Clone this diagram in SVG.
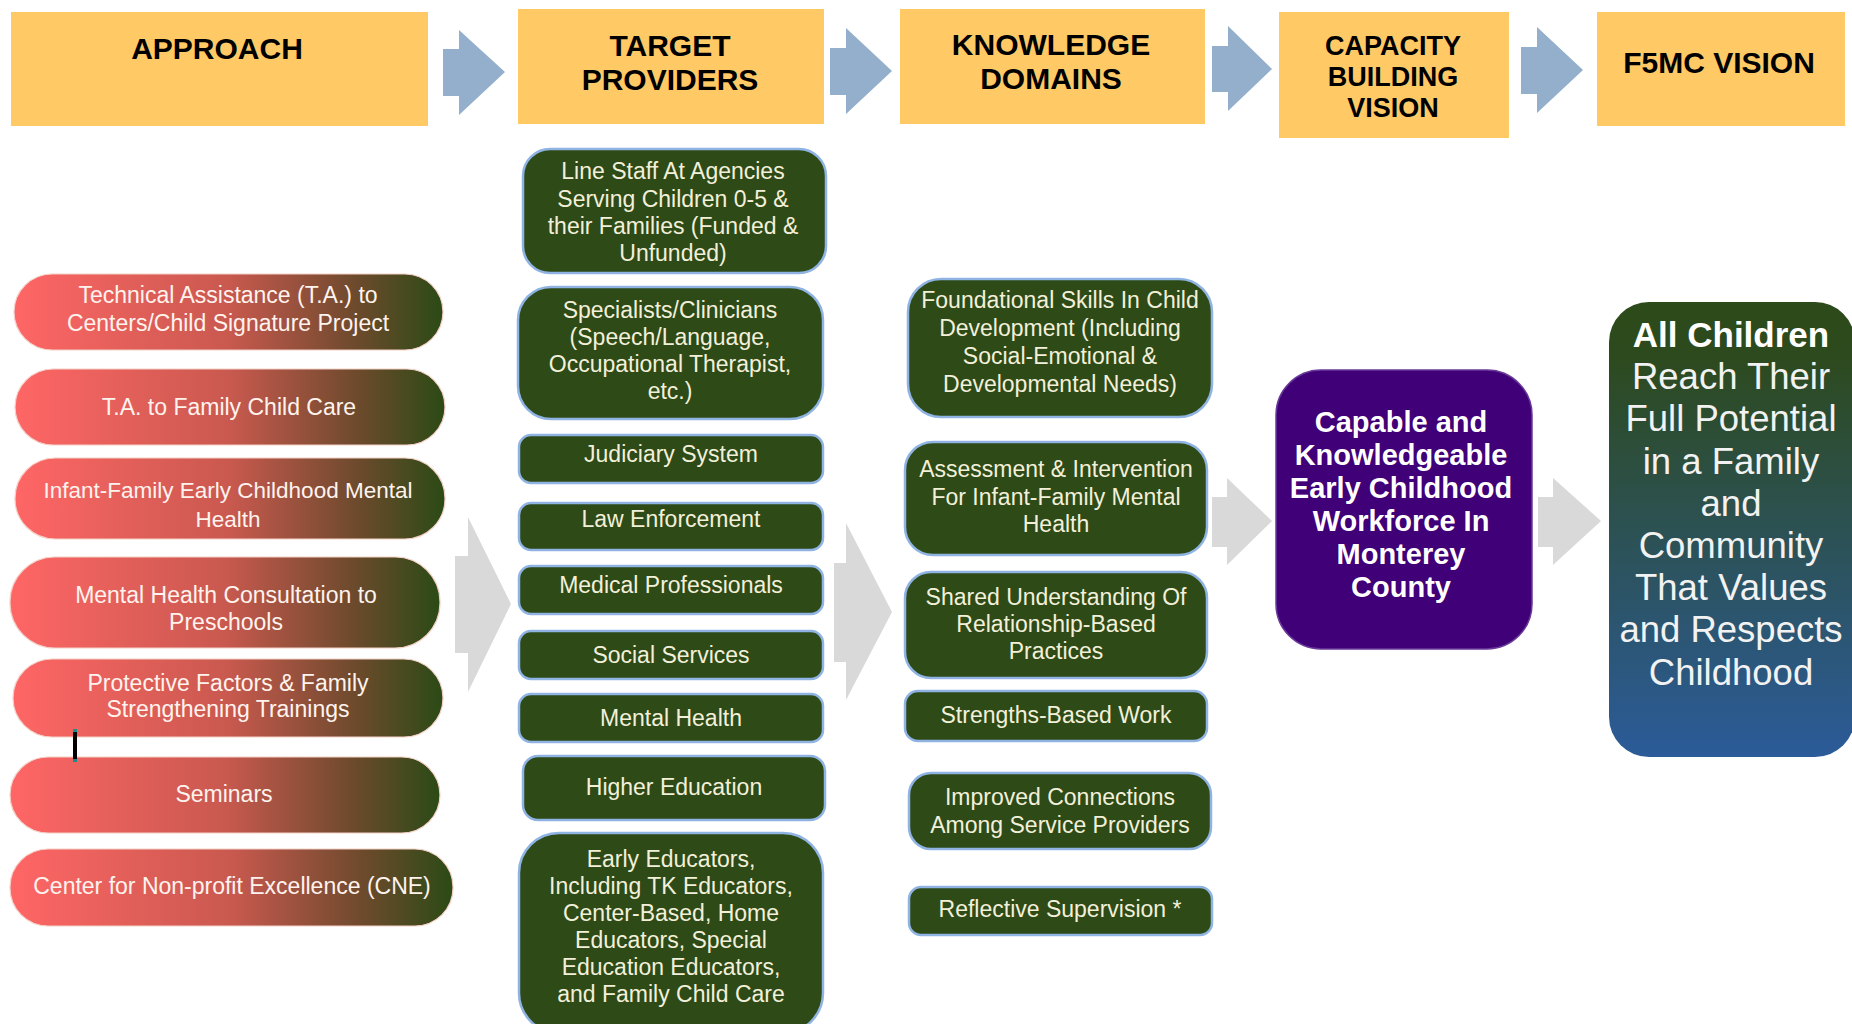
<svg xmlns="http://www.w3.org/2000/svg" width="1852" height="1024" viewBox="0 0 1852 1024">
<defs>
<linearGradient id="pg" x1="0" y1="0" x2="1" y2="0">
<stop offset="0" stop-color="#FF6666"/>
<stop offset="0.5" stop-color="#C9594F"/>
<stop offset="0.8" stop-color="#6C4A2C"/>
<stop offset="1" stop-color="#2B4A16"/>
</linearGradient>
<linearGradient id="vg" x1="0" y1="0" x2="0" y2="1">
<stop offset="0" stop-color="#2D4A1A"/>
<stop offset="0.12" stop-color="#2D4A1E"/>
<stop offset="1" stop-color="#2B5B99"/>
</linearGradient>
<style>
.hdr{fill:#FFC966}
.htxt{font-family:"Liberation Sans",Arial,sans-serif;font-weight:bold;font-size:30px;fill:#000;text-anchor:middle}
.blue{fill:#94AFCC}
.gray{fill:#D9D9D9}
.pill{fill:url(#pg);stroke:#F4CFC6;stroke-width:1.2}
.ptxt{font-family:"Liberation Sans",Arial,sans-serif;font-size:23px;fill:#FFF3EE;text-anchor:middle}
.gbox{fill:#2D4A17;stroke:#8FB4E3;stroke-width:2.5}
.gtxt{font-family:"Liberation Sans",Arial,sans-serif;font-size:23px;fill:#F3F0DA;text-anchor:middle}
.ctxt{font-family:"Liberation Sans",Arial,sans-serif;font-weight:bold;font-size:29px;fill:#FFFFFF;text-anchor:middle}
.vtxt{font-family:"Liberation Sans",Arial,sans-serif;font-size:36.5px;fill:#F2F2F2;text-anchor:middle}
</style>
</defs>
<rect width="1852" height="1024" fill="#FFFFFF"/>

<!-- Headers -->
<g id="hdr-approach"><rect class="hdr" x="11" y="12" width="417" height="114"/><text class="htxt" x="217" y="59">APPROACH</text></g>
<g id="hdr-target"><rect class="hdr" x="518" y="9" width="306" height="115"/><text class="htxt" x="670" y="56">TARGET</text><text class="htxt" x="670" y="90">PROVIDERS</text></g>
<g id="hdr-knowledge"><rect class="hdr" x="900" y="9" width="305" height="115"/><text class="htxt" x="1051" y="55">KNOWLEDGE</text><text class="htxt" x="1051" y="89">DOMAINS</text></g>
<g id="hdr-capacity"><rect class="hdr" x="1279" y="12" width="230" height="126"/><text class="htxt" x="1393" y="55" style="font-size:27px">CAPACITY</text><text class="htxt" x="1393" y="86" style="font-size:27px">BUILDING</text><text class="htxt" x="1393" y="117" style="font-size:27px">VISION</text></g>
<g id="hdr-vision"><rect class="hdr" x="1597" y="12" width="248" height="114"/><text class="htxt" x="1719" y="73">F5MC VISION</text></g>

<!-- Connectors -->
<g id="connectors">
<path class="blue" d="M443,49 H459 V30 L505,72 L459,115 V96 H443 Z"/>
<path class="blue" d="M830,48 H846 V28 L892,71 L846,114 V95 H830 Z"/>
<path class="blue" d="M1212,46 H1228 V26 L1272,69 L1228,111 V92 H1212 Z"/>
<path class="blue" d="M1521,47 H1537 V27 L1583,70 L1537,113 V94 H1521 Z"/>
<path class="gray" d="M455,556 H468 V517 L511,604 L468,692 V653 H455 Z"/>
<path class="gray" d="M834,563 H846 V523 L892,612 L846,700 V662 H834 Z"/>
<path class="gray" d="M1212,497 H1227 V478 L1272,521 L1227,565 V547 H1212 Z"/>
<path class="gray" d="M1538,497 H1553 V478 L1601,521 L1553,565 V547 H1538 Z"/>
</g>

<!-- Approach pills -->
<g id="ap1"><rect class="pill" x="14" y="274" width="429" height="76" rx="38"/><text class="ptxt" x="228" y="303">Technical Assistance (T.A.) to</text><text class="ptxt" x="228" y="331">Centers/Child Signature Project</text></g>
<g id="ap2"><rect class="pill" x="15" y="369" width="430" height="76" rx="38"/><text class="ptxt" x="229" y="415">T.A. to Family Child Care</text></g>
<g id="ap3"><rect class="pill" x="15" y="458" width="430" height="81" rx="40"/><text class="ptxt" x="228" y="498" style="font-size:22.5px">Infant-Family Early Childhood Mental</text><text class="ptxt" x="228" y="527" style="font-size:22.5px">Health</text></g>
<g id="ap4"><rect class="pill" x="10" y="557" width="430" height="91" rx="45"/><text class="ptxt" x="226" y="603">Mental Health Consultation to</text><text class="ptxt" x="226" y="630">Preschools</text></g>
<g id="ap5"><rect class="pill" x="13" y="659" width="430" height="78" rx="39"/><text class="ptxt" x="228" y="691">Protective Factors &amp; Family</text><text class="ptxt" x="228" y="717">Strengthening Trainings</text></g>
<g id="ap6"><rect class="pill" x="10" y="757" width="430" height="76" rx="38"/><text class="ptxt" x="224" y="802">Seminars</text></g>
<g id="ap7"><rect class="pill" x="10" y="849" width="443" height="77" rx="38"/><text class="ptxt" x="232" y="894">Center for Non-profit Excellence (CNE)</text></g>
<g id="cursor"><rect x="73" y="729" width="4" height="33" fill="#000"/><rect x="73" y="729" width="4" height="3" fill="#1A8A8A"/><rect x="73" y="759" width="4" height="3" fill="#1A8A8A"/></g>

<!-- Target providers -->
<g id="tp1"><rect class="gbox" x="523" y="149" width="303" height="124" rx="27"/><text class="gtxt" x="673" y="179">Line Staff At Agencies</text><text class="gtxt" x="673" y="207">Serving Children 0-5 &amp;</text><text class="gtxt" x="673" y="234">their Families (Funded &amp;</text><text class="gtxt" x="673" y="261">Unfunded)</text></g>
<g id="tp2"><rect class="gbox" x="518" y="287" width="305" height="132" rx="33"/><text class="gtxt" x="670" y="318">Specialists/Clinicians</text><text class="gtxt" x="670" y="345">(Speech/Language,</text><text class="gtxt" x="670" y="372">Occupational Therapist,</text><text class="gtxt" x="670" y="399">etc.)</text></g>
<g id="tp3"><rect class="gbox" x="519" y="435" width="304" height="48" rx="12"/><text class="gtxt" x="671" y="462">Judiciary System</text></g>
<g id="tp4"><rect class="gbox" x="519" y="503" width="304" height="47" rx="12"/><text class="gtxt" x="671" y="527">Law Enforcement</text></g>
<g id="tp5"><rect class="gbox" x="519" y="566" width="304" height="48" rx="12"/><text class="gtxt" x="671" y="593">Medical Professionals</text></g>
<g id="tp6"><rect class="gbox" x="519" y="631" width="304" height="48" rx="12"/><text class="gtxt" x="671" y="663">Social Services</text></g>
<g id="tp7"><rect class="gbox" x="519" y="694" width="304" height="48" rx="12"/><text class="gtxt" x="671" y="726">Mental Health</text></g>
<g id="tp8"><rect class="gbox" x="523" y="756" width="302" height="64" rx="15"/><text class="gtxt" x="674" y="795">Higher Education</text></g>
<g id="tp9"><rect class="gbox" x="519" y="833" width="304" height="200" rx="40"/><text class="gtxt" x="671" y="867">Early Educators,</text><text class="gtxt" x="671" y="894">Including TK Educators,</text><text class="gtxt" x="671" y="921">Center-Based, Home</text><text class="gtxt" x="671" y="948">Educators, Special</text><text class="gtxt" x="671" y="975">Education Educators,</text><text class="gtxt" x="671" y="1002">and Family Child Care</text></g>

<!-- Knowledge domains -->
<g id="kd1"><rect class="gbox" x="908" y="279" width="304" height="138" rx="33"/><text class="gtxt" x="1060" y="308">Foundational Skills In Child</text><text class="gtxt" x="1060" y="336">Development (Including</text><text class="gtxt" x="1060" y="364">Social-Emotional &amp;</text><text class="gtxt" x="1060" y="392">Developmental Needs)</text></g>
<g id="kd2"><rect class="gbox" x="905" y="442" width="302" height="113" rx="28"/><text class="gtxt" x="1056" y="477">Assessment &amp; Intervention</text><text class="gtxt" x="1056" y="505">For Infant-Family Mental</text><text class="gtxt" x="1056" y="532">Health</text></g>
<g id="kd3"><rect class="gbox" x="905" y="572" width="302" height="106" rx="26"/><text class="gtxt" x="1056" y="605">Shared Understanding Of</text><text class="gtxt" x="1056" y="632">Relationship-Based</text><text class="gtxt" x="1056" y="659">Practices</text></g>
<g id="kd4"><rect class="gbox" x="905" y="691" width="302" height="50" rx="13"/><text class="gtxt" x="1056" y="723">Strengths-Based Work</text></g>
<g id="kd5"><rect class="gbox" x="909" y="773" width="302" height="76" rx="22"/><text class="gtxt" x="1060" y="805">Improved Connections</text><text class="gtxt" x="1060" y="833">Among Service Providers</text></g>
<g id="kd6"><rect class="gbox" x="909" y="887" width="303" height="48" rx="12"/><text class="gtxt" x="1060" y="917">Reflective Supervision *</text></g>

<!-- Capacity building vision -->
<g id="capacity"><rect x="1276" y="370" width="256" height="279" rx="45" fill="#400078" stroke="#6A3A9A" stroke-width="1.5"/>
<text class="ctxt" x="1401" y="432">Capable and</text>
<text class="ctxt" x="1401" y="465">Knowledgeable</text>
<text class="ctxt" x="1401" y="498">Early Childhood</text>
<text class="ctxt" x="1401" y="531">Workforce In</text>
<text class="ctxt" x="1401" y="564">Monterey</text>
<text class="ctxt" x="1401" y="597">County</text></g>

<!-- F5MC vision -->
<g id="vision"><rect x="1609" y="302" width="246" height="455" rx="40" fill="url(#vg)"/>
<text class="vtxt" x="1731" y="347" style="font-weight:bold;font-size:35px;fill:#FFFFFF">All Children</text>
<text class="vtxt" x="1731" y="389">Reach Their</text>
<text class="vtxt" x="1731" y="431">Full Potential</text>
<text class="vtxt" x="1731" y="474">in a Family</text>
<text class="vtxt" x="1731" y="516">and</text>
<text class="vtxt" x="1731" y="558">Community</text>
<text class="vtxt" x="1731" y="600">That Values</text>
<text class="vtxt" x="1731" y="642">and Respects</text>
<text class="vtxt" x="1731" y="685">Childhood</text></g>
</svg>
